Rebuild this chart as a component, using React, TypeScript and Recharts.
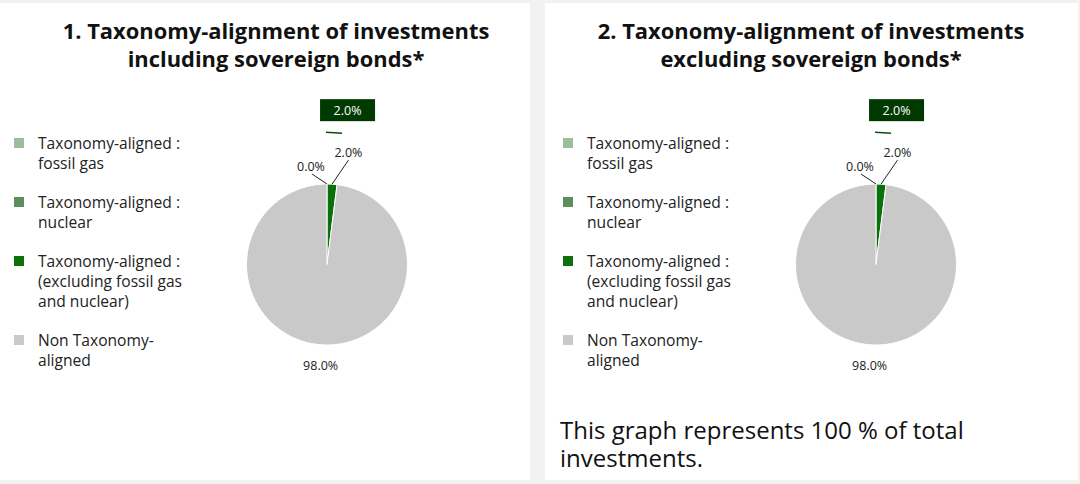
import * as React from 'react'
import { Pie, PieChart, Cell } from 'recharts'

// categories and values
const categories = [
  'Taxonomy-aligned : fossil gas',
  'Taxonomy-aligned : nuclear',
  'Taxonomy-aligned : (excluding fossil gas and nuclear)',
  'Non Taxonomy-aligned',
]
const legendLines = [
  ['Taxonomy-aligned :', 'fossil gas'],
  ['Taxonomy-aligned :', 'nuclear'],
  ['Taxonomy-aligned :', '(excluding fossil gas', 'and nuclear)'],
  ['Non Taxonomy-', 'aligned'],
]
const includingSovereign = [0.0, 0.0, 2.0, 98.0]
const excludingSovereign = [0.0, 0.0, 2.0, 98.0]
const colors = ['#9bbd9b', '#5b8f5b', '#0b720b', '#c9c9c9']
const titles = [
  ['1. Taxonomy-alignment of investments', 'including sovereign bonds*'],
  ['2. Taxonomy-alignment of investments', 'excluding sovereign bonds*'],
]
const footnote = 'This graph represents 100 % of total investments.'

const FONT = '"Open Sans", sans-serif'
const LABEL_SIZE = 12.5
const RADIAN = Math.PI / 180

const polar = (cx: number, cy: number, r: number, angle: number) => ({
  x: cx + r * Math.cos(-angle * RADIAN),
  y: cy + r * Math.sin(-angle * RADIAN),
})

const fmt = (v: number) => `${v.toFixed(1)}%`

const renderLabel = (props: any) => {
  const { cx, cy, midAngle, outerRadius, index, value } = props
  const s = polar(cx, cy, outerRadius, midAngle)
  if (index === 0) {
    return (
      <g key={`l-${index}`}>
        <line x1={s.x} y1={s.y} x2={s.x - 15} y2={s.y - 10} stroke="#222" strokeWidth={1} />
        <text x={s.x - 16} y={s.y - 18} textAnchor="middle" dominantBaseline="central"
          fontSize={LABEL_SIZE} fontFamily={FONT} fill="#222">{fmt(value)}</text>
      </g>
    )
  }
  if (index === 2) {
    const e = polar(cx, cy, outerRadius + 26, midAngle - 8)
    return (
      <g key={`l-${index}`}>
        <line x1={s.x} y1={s.y} x2={e.x} y2={e.y} stroke="#222" strokeWidth={1} />
        <text x={e.x} y={e.y - 8} textAnchor="middle" dominantBaseline="central"
          fontSize={LABEL_SIZE} fontFamily={FONT} fill="#222">{fmt(value)}</text>
        <line x1={s.x - 6} y1={s.y - 52} x2={s.x + 10} y2={s.y - 51} stroke="#0b4d0b" strokeWidth={1.5} />
        <rect x={s.x - 12} y={s.y - 85} width={55} height={22} fill="#003a00" />
        <text x={s.x + 15.5} y={s.y - 74} textAnchor="middle" dominantBaseline="central"
          fontSize={LABEL_SIZE} fontFamily={FONT} fill="#fff">{fmt(value)}</text>
      </g>
    )
  }
  if (index === 3) {
    const p = polar(cx, cy, outerRadius + 21, midAngle)
    return (
      <text key={`l-${index}`} x={p.x} y={p.y} textAnchor="middle" dominantBaseline="central"
        fontSize={LABEL_SIZE} fontFamily={FONT} fill="#222">{fmt(value)}</text>
    )
  }
  return <g key={`l-${index}`} />
}

const LegendList = () => (
  <div style={{ fontFamily: FONT, fontSize: 15.6, color: '#222', lineHeight: '20px' }}>
    {legendLines.map((lines, i) => (
      <div key={categories[i]} style={{ position: 'relative', paddingLeft: 24, marginBottom: 19 }}>
        <span style={{ position: 'absolute', left: 0, top: 5, width: 10, height: 10, background: colors[i] }} />
        {lines.map((l) => (
          <div key={l}>{l}</div>
        ))}
      </div>
    ))}
  </div>
)

const Panel = ({ x, titleX, title, values }: { x: number; titleX: number; title: string[]; values: number[] }) => {
  const data = categories.map((name, i) => ({ name, value: values[i] }))
  return (
    <>
      <div style={{
        position: 'absolute', left: titleX, top: 17, width: 552, textAlign: 'center',
        fontFamily: FONT, fontWeight: 700, fontSize: 21.9, lineHeight: '28px', color: '#111',
      }}>
        {title.map((t) => <div key={t}>{t}</div>)}
      </div>
      <div style={{ position: 'absolute', left: x + 14, top: 133 }}>
        <LegendList />
      </div>
      <div style={{ position: 'absolute', left: x, top: 0 }}>
        <PieChart width={530} height={484}>
          <Pie
            data={data}
            dataKey="value"
            nameKey="name"
            cx={322}
            cy={259.5}
            outerRadius={80.5}
            startAngle={90}
            endAngle={-270}
            stroke="#fff"
            strokeWidth={1}
            label={renderLabel}
            labelLine={false}
            isAnimationActive={false}
          >
            {data.map((d, i) => (
              <Cell key={d.name} fill={colors[i]} />
            ))}
          </Pie>
        </PieChart>
      </div>
    </>
  )
}

export default function App() {
  return (
    <div style={{ position: 'fixed', left: 0, top: 0, width: 1080, height: 484, background: '#f2f2f2', overflow: 'hidden' }}>
      <div style={{ position: 'absolute', left: 0, top: 3, width: 530, height: 477, background: '#fff' }} />
      <div style={{ position: 'absolute', left: 545, top: 3, width: 533, height: 477, background: '#fff' }} />
      <Panel x={0} titleX={0} title={titles[0]} values={includingSovereign} />
      <Panel x={549} titleX={535} title={titles[1]} values={excludingSovereign} />
      <div style={{
        position: 'absolute', left: 560, top: 416, width: 440,
        fontFamily: FONT, fontSize: 24, lineHeight: '28px', color: '#111',
      }}>
        {footnote}
      </div>
    </div>
  )
}
